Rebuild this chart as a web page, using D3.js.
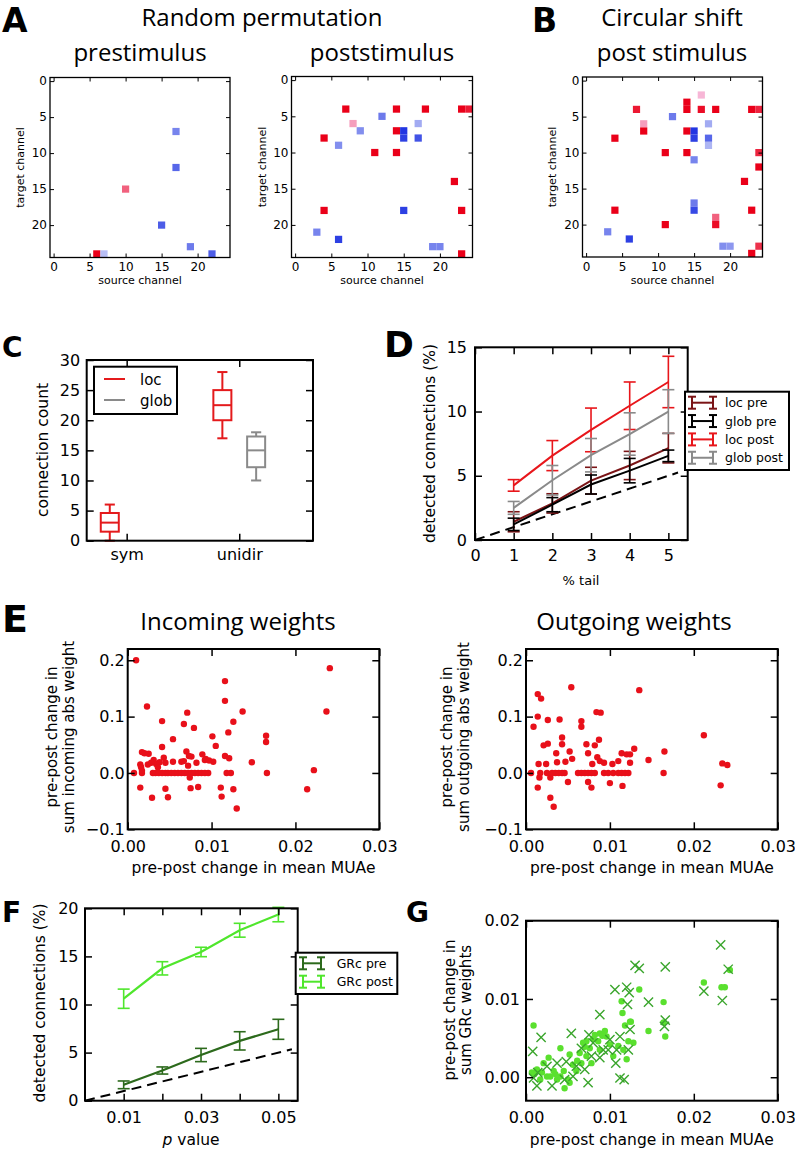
<!DOCTYPE html>
<html><head><meta charset="utf-8">
<script src="https://cdn.jsdelivr.net/npm/d3@7"></script>
<style>body{margin:0;background:#fff}svg{display:block}</style>
</head><body><svg id="c" width="795" height="1152"></svg>
<script>
// ---------------- DATA ----------------
const matrixTicks = [0, 5, 10, 15, 20];
// [source channel, target channel, signed weight strength]
const preCells = [[17,7,-0.6],[17,12,-0.75],[10,15,0.6],[15,20,-0.8],[19,23,-0.65],[22,24,-0.8],[6,24,1],[7,24,-0.3]];
const postCells = [[7,4,1],[14,4,1],[18,4,1],[23,4,1],[24,4,0.9],[12,5,-0.65],[8,6,0.35],[17,6,-0.4],[9,7,-0.55],[14,7,1],[15,7,-1],[15,8,-0.95],[17,8,-0.85],[4,8,1],[6,9,-0.55],[11,10,1],[14,10,1],[22,14,1],[4,18,1],[15,18,-0.95],[23,18,1],[3,21,-0.6],[6,22,-0.95],[19,23,-0.6],[20,23,-0.6],[23,24,1]];
const shiftCells = [[16,2,0.25],[14,3,1],[14,4,1],[7,4,0.9],[16,4,0.95],[18,4,1],[23,4,1],[24,4,0.85],[12,5,-0.65],[8,6,0.35],[17,6,-0.4],[8,7,1],[14,7,1],[15,7,-1],[15,8,-0.95],[17,8,-0.75],[17,9,-0.35],[4,8,1],[11,10,1],[14,10,1],[15,11,-0.6],[24,10,0.85],[24,12,1],[22,14,1],[4,18,1],[15,17,-0.65],[15,18,-0.9],[23,18,1],[18,19,0.6],[18,20,0.95],[11,20,1],[3,21,-0.6],[6,22,-0.95],[19,23,-0.55],[20,23,-0.5],[23,24,1],[24,23,0.8]];

const boxCategories = ["sym", "unidir"];
const boxTicks = [0, 5, 10, 15, 20, 25, 30];
// [low whisker, q1, median, q3, high whisker] per category
const locBoxes = [[0, 1.5, 3, 4.6, 6], [17, 20, 22.5, 25, 28]];
const globBoxes = [null, [10, 12.2, 15, 17.3, 18]];

const tailPct = [1, 2, 3, 4, 5];
const locPreMean = [1.42, 2.85, 4.62, 5.8, 7.15];
const locPreErr = [0.78, 0.75, 1.04, 1.1, 1.15];
const globPreMean = [1.22, 2.75, 4.32, 5.4, 6.55];
const globPreErr = [0.48, 0.55, 0.74, 0.95, 0.45];
const locPostMean = [4.25, 6.57, 8.57, 10.45, 12.3];
const locPostErr = [0.45, 1.17, 1.7, 1.85, 2.0];
const globPostMean = [2.5, 4.65, 6.6, 8.25, 10.0];
const globPostErr = [0.5, 1.15, 1.3, 1.65, 1.7];
const dXTicks = [0, 1, 2, 3, 4, 5];
const dYTicks = [0, 5, 10, 15];
const dLegend = ["loc pre", "glob pre", "loc post", "glob post"];

const incomingPoints = [[0.0010,0.200],[0.0023,0.118],[0.0041,0.092],[0.0071,0.107],[0.0067,0.087],[0.0079,0.080],[0.0054,0.060],[0.0041,0.046],[0.0017,0.037],[0.0020,0.035],[0.0025,0.034],[0.0070,0.038],[0.0089,0.033],[0.0076,0.029],[0.0073,0.030],[0.0101,0.065],[0.0105,0.048],[0.0102,0.020],[0.0092,0.023],[0.0116,0.163],[0.0116,0.128],[0.0126,0.091],[0.0120,0.072],[0.0137,0.109],[0.0116,0.030],[0.0121,0.026],[0.0148,0.019],[0.0165,0.066],[0.0165,0.055],[0.0166,0.000],[0.0214,-0.029],[0.0222,0.005],[0.0237,0.109],[0.0241,0.186],
[0.00075,0],[0.0017,0],[0.0030,0],[0.0033,0],[0.0037,0],[0.0041,0],[0.0045,0],[0.0048,0],[0.0052,0],[0.0056,0],[0.0060,0],[0.0064,0],[0.0068,0],[0.0072,0],[0.0076,0],[0.0080,0],[0.0084,0],[0.0088,0],[0.0092,0],[0.0096,0],[0.0118,0],[0.0123,0],
[0.0015,-0.026],[0.0029,-0.044],[0.0045,-0.028],[0.0048,-0.043],[0.0075,-0.027],[0.0084,-0.025],[0.0111,-0.026],[0.0112,-0.042],[0.0126,-0.029],[0.0130,-0.063],[0.0074,-0.008],
[0.0015,0.015],[0.0016,0.010],[0.0017,0.004],[0.0024,0.015],[0.0031,0.023],[0.0034,0.016],[0.0038,0.019],[0.0043,0.027],[0.0045,0.018],[0.0054,0.020],[0.0064,0.020],[0.0067,0.021],[0.0072,0.013],[0.0082,0.018],[0.0093,0.025],[0.0097,0.022],[0.0028,0.018],[0.0036,0.010]];

const outgoingPoints = [[0.0014,0.140],[0.0018,0.132],[0.0014,0.100],[0.0009,0.082],[0.0026,0.094],[0.0040,0.095],[0.0054,0.152],[0.0066,0.092],[0.0066,0.082],[0.0084,0.108],[0.0089,0.107],[0.0135,0.147],[0.0087,0.059],[0.0082,0.049],[0.0072,0.051],[0.0043,0.063],[0.0043,0.051],[0.0021,0.049],[0.0026,0.052],[0.0052,0.038],[0.0036,0.035],[0.0129,0.043],[0.0114,0.035],[0.0120,0.033],[0.0124,0.033],[0.0074,0.035],[0.0085,0.028],[0.0088,0.021],[0.0093,0.018],[0.0103,0.016],[0.0110,0.021],[0.0146,0.023],[0.0124,0.018],[0.0165,0.038],[0.0212,0.067],[0.0234,0.017],[0.0240,0.014],[0.0232,-0.022],[0.0164,0.000],[0.0015,0.016],[0.0024,0.016],[0.0037,0.019],[0.0047,0.020],[0.0055,0.025],[0.0079,0.016],
[0.0014,-0.026],[0.0029,-0.044],[0.0033,-0.060],[0.0050,-0.016],[0.0074,-0.016],[0.0078,-0.026],[0.0100,-0.018],[0.0115,-0.023],[0.0016,-0.008],[0.0029,-0.008],
[0.0006,0],[0.0017,0],[0.0025,0],[0.0031,0],[0.0035,0],[0.0039,0],[0.0043,0],[0.0046,0],[0.0062,0],[0.0066,0],[0.0070,0],[0.0074,0],[0.0078,0],[0.0082,0],[0.0093,0],[0.0098,0],[0.0104,0],[0.0110,0],[0.0114,0],[0.0118,0],[0.0122,0]];
const eXTicks = [0, 0.01, 0.02, 0.03];
const eYTicks = [-0.1, 0, 0.1, 0.2];

const pValues = [0.01, 0.02, 0.03, 0.04, 0.05];
const grcPreMean = [1.65, 3.14, 4.75, 6.22, 7.42];
const grcPreErr = [0.4, 0.37, 0.69, 0.95, 1.04];
const grcPostMean = [10.6, 13.76, 15.46, 17.72, 19.35];
const grcPostErr = [1.0, 0.69, 0.49, 0.72, 0.75];
const fXTickLabels = ["0.01", "", "0.03", "", "0.05"];
const fYTicks = [0, 5, 10, 15, 20];
const fLegend = ["GRc pre", "GRc post"];

const grcDots = [[0.0009,0.0066],[0.0212,0.0121],[0.0233,0.0115],[0.0237,0.0115],[0.0243,0.0137],[0.0135,0.0112],[0.0114,0.0097],[0.0115,0.0082],[0.0124,0.0071],[0.0146,0.0059],[0.0164,0.0096],[0.0166,0.0052],[0.0164,0.0070],[0.0128,0.0044],[0.0122,0.0046],[0.0116,0.0035],[0.0120,0.0023],[0.0104,0.0027],[0.0096,0.0052],[0.0088,0.0056],[0.0082,0.0054],[0.0072,0.0046],[0.0068,0.0044],[0.0076,0.0037],[0.0064,0.0031],[0.0052,0.0029],[0.0041,0.0037],[0.0027,0.0025],[0.0021,0.0018],[0.0013,0.0010],[0.0007,0.0006],[0.0017,-0.0003],[0.0029,0.0001],[0.0037,-0.0003],[0.0046,-0.0014],[0.0052,-0.0007],[0.0045,0.0008],[0.0033,0.0008],[0.0060,0.0008],[0.0066,0.0018],[0.0078,0.0018],[0.0088,0.0035],[0.0100,0.0042],[0.0110,0.0040],[0.0072,0.0027],[0.0056,0.0016],[0.0025,0.0001],[0.0041,0.0001],[0.0050,-0.0003],[0.0094,0.0059],[0.0086,0.0046],[0.0118,0.0066],[0.0125,0.0071],[0.0061,0.0021],[0.0070,0.0039],[0.0080,0.0049],[0.0091,0.0053],[0.0035,0.0004],[0.0019,0.0006],[0.0010,0.0004]];
const grcCrosses = [[0.0232,0.0169],[0.0130,0.0143],[0.0135,0.0139],[0.0166,0.0141],[0.0241,0.0138],[0.0212,0.0110],[0.0234,0.0098],[0.0106,0.0112],[0.0120,0.0115],[0.0123,0.0108],[0.0121,0.0093],[0.0146,0.0096],[0.0088,0.0080],[0.0166,0.0073],[0.0165,0.0065],[0.0124,0.0061],[0.0054,0.0056],[0.0075,0.0054],[0.0018,0.0051],[0.0008,0.0033],[0.0100,0.0048],[0.0112,0.0052],[0.0122,0.0035],[0.0107,0.0018],[0.0112,-0.0001],[0.0117,-0.0003],[0.0074,-0.0007],[0.0013,-0.0011],[0.0031,-0.0011],[0.0046,-0.0003],[0.0060,0.0014],[0.0078,0.0027],[0.0088,0.0025],[0.0092,0.0035],[0.0025,0.0014],[0.0037,0.0018],[0.0048,0.0020],[0.0066,0.0037],[0.0080,0.0044],[0.0098,0.0035],[0.0108,0.0035],[0.0014,0.0006],[0.0009,-0.0001],[0.0056,0.0001],[0.0070,0.0010]];
const gYTicks = [0, 0.01, 0.02];

// ---------------- DRAWING ----------------
const svg = d3.select('#c');
const TF = 'DejaVu Sans', HF = 'Open Sans';

function txt(x, y, s, o = {}) {
  const t = svg.append('text').attr('x', x).attr('y', y).text(s)
    .attr('font-family', o.ff || TF).attr('font-size', o.fs || 15)
    .attr('text-anchor', o.anchor || 'middle').attr('fill', '#000');
  if (o.fw) t.attr('font-weight', o.fw);
  if (o.rot) t.attr('transform', `rotate(-90,${x},${y})`);
  return t;
}
function letter(x, y, s, fs) { return txt(x, y, s, { ff: 'DejaVu Sans', fs: fs, fw: 'bold', anchor: 'start' }); }

function axes(x, y, o) {
  const g = svg.append('g');
  const [xl, xr] = x.range(); const [yb, yt] = y.range();
  const L = o.len;
  g.append('g').attr('transform', `translate(0,${yb})`)
    .call(d3.axisBottom(x).tickValues(o.xt).tickSize(-L).tickPadding(o.xpad).tickFormat(o.xf));
  g.append('g').attr('transform', `translate(0,${yt})`)
    .call(d3.axisTop(x).tickValues(o.xt).tickSize(-L).tickFormat(() => ''));
  g.append('g').attr('transform', `translate(${xl},0)`)
    .call(d3.axisLeft(y).tickValues(o.yt).tickSize(-L).tickPadding(o.ypad).tickFormat(o.yf));
  g.append('g').attr('transform', `translate(${xr},0)`)
    .call(d3.axisRight(y).tickValues(o.yt).tickSize(-L).tickFormat(() => ''));
  g.selectAll('.domain').remove();
  g.selectAll('.tick line').attr('stroke', '#000').attr('stroke-width', o.tw);
  g.selectAll('.tick text').attr('font-family', TF).attr('font-size', o.fs).attr('fill', '#000');
  g.append('rect').attr('x', xl).attr('y', yt).attr('width', xr - xl).attr('height', yb - yt)
    .attr('fill', 'none').attr('stroke', '#000').attr('stroke-width', o.bw);
  return g;
}

// ---- Panel A / B matrices ----
const posCol = d3.scaleLinear().domain([0.25, 1]).range(['#f7b6d6', '#ea0019']).clamp(true);
const negCol = d3.scaleLinear().domain([0.25, 1]).range(['#c2c8f6', '#2236e2']).clamp(true);
function cellColor(v) { return v > 0 ? posCol(v) : negCol(-v); }

function matrixPanel(x0, y0, size, cells, labelX) {
  const xs = d3.scaleLinear().domain([-0.5, 24.5]).range([x0, x0 + size]);
  const ys = d3.scaleLinear().domain([24.5, -0.5]).range([y0 + size, y0]);
  svg.append('g').selectAll('rect').data(cells).join('rect')
    .attr('x', d => xs(d[0] - 0.5)).attr('y', d => ys(d[1] - 0.5))
    .attr('width', xs(1) - xs(0)).attr('height', ys(1) - ys(0))
    .attr('fill', d => cellColor(d[2]));
  axes(xs, ys, { xt: matrixTicks, yt: matrixTicks, len: 4, tw: 1, bw: 1.3, fs: 12,
    xpad: 5, ypad: 3, xf: d3.format('d'), yf: d3.format('d') });
  txt(labelX, y0 + size / 2, 'target channel', { fs: 11, rot: true });
  txt(x0 + size / 2, 284, 'source channel', { fs: 11 });
}
matrixPanel(50, 77.5, 180, preCells, 24);
matrixPanel(291.5, 76.5, 181, postCells, 266);
matrixPanel(582.5, 77, 180, shiftCells, 556);

letter(2, 32, 'A', 33);
letter(532, 32, 'B', 33);
txt(262, 26, 'Random permutation', { ff: HF, fs: 24 });
txt(140, 61, 'prestimulus', { ff: HF, fs: 24 });
txt(382, 61, 'poststimulus', { ff: HF, fs: 24 });
txt(672, 26, 'Circular shift', { ff: HF, fs: 24 });
txt(672, 61, 'post stimulus', { ff: HF, fs: 24 });

// ---- Panel C boxplot ----
{
  const x = d3.scaleLinear().domain([0.645, 2.655]).range([86.7, 313]);
  const y = d3.scaleLinear().domain([0, 30]).range([540.7, 360]);
  const g = svg.append('g');
  const bw = x(0.08) - x(0), cw = x(0.045) - x(0);
  function box(stats, pos, col) {
    if (!stats) return;
    const [lo, q1, med, q3, hi] = stats; const cx = x(pos);
    const b = g.append('g').attr('stroke', col).attr('stroke-width', 2).attr('fill', 'none');
    b.append('rect').attr('x', cx - bw).attr('y', y(q3)).attr('width', 2 * bw).attr('height', y(q1) - y(q3));
    b.append('line').attr('x1', cx - bw).attr('x2', cx + bw).attr('y1', y(med)).attr('y2', y(med));
    b.append('line').attr('x1', cx).attr('x2', cx).attr('y1', y(q3)).attr('y2', y(hi));
    b.append('line').attr('x1', cx).attr('x2', cx).attr('y1', y(q1)).attr('y2', y(lo));
    [lo, hi].forEach(v => b.append('line').attr('x1', cx - cw).attr('x2', cx + cw).attr('y1', y(v)).attr('y2', y(v)));
  }
  boxCategories.forEach((c, i) => { box(locBoxes[i], i + 1 - 0.15, '#e41a1c'); box(globBoxes[i], i + 1 + 0.15, '#8a8a8a'); });
  axes(x, y, { xt: [1, 2], yt: boxTicks, len: 7, tw: 1.5, bw: 2, fs: 16, xpad: 8, ypad: 6.5,
    xf: (d, i) => boxCategories[i], yf: d3.format('d') });
  const lg = svg.append('g');
  lg.append('rect').attr('x', 94).attr('y', 366.7).attr('width', 83).attr('height', 47.3).attr('fill', '#fff').attr('stroke', '#000').attr('stroke-width', 2);
  [['loc', '#e41a1c', 379], ['glob', '#8a8a8a', 400]].forEach(([n, c, yy]) => {
    lg.append('line').attr('x1', 104).attr('x2', 125).attr('y1', yy).attr('y2', yy).attr('stroke', c).attr('stroke-width', 2);
    txt(140, yy + 5.5, n, { fs: 15, anchor: 'start' });
  });
  txt(48, 450, 'connection count', { fs: 15.5, rot: true });
  letter(2, 357, 'C', 28);
}

// ---- Panel D ----
function errLines(g, x, y, xs, means, errs, col, capW, lw) {
  const line = d3.line().x((d, i) => x(xs[i])).y(d => y(d));
  g.append('path').attr('d', line(means)).attr('fill', 'none').attr('stroke', col).attr('stroke-width', lw);
  const e = g.append('g').attr('stroke', col).attr('stroke-width', 1.6);
  means.forEach((m, i) => {
    const cx = x(xs[i]), a = y(m - errs[i]), b = y(m + errs[i]);
    e.append('line').attr('x1', cx).attr('x2', cx).attr('y1', a).attr('y2', b);
    [a, b].forEach(v => e.append('line').attr('x1', cx - capW).attr('x2', cx + capW).attr('y1', v).attr('y2', v));
  });
}
function legendErr(g, x0, x1, yy, col) {
  const e = g.append('g').attr('stroke', col).attr('stroke-width', 2);
  const a = x0 + 4, b = x1 - 4;
  e.append('line').attr('x1', a).attr('x2', b).attr('y1', yy).attr('y2', yy);
  [a, b].forEach(v => {
    e.append('line').attr('x1', v).attr('x2', v).attr('y1', yy - 6).attr('y2', yy + 6);
    [yy - 6, yy + 6].forEach(w => e.append('line').attr('x1', v - 4).attr('x2', v + 4).attr('y1', w).attr('y2', w));
  });
}
{
  const x = d3.scaleLinear().domain([0, 5.5]).range([475, 687.7]);
  const y = d3.scaleLinear().domain([0, 15]).range([540, 347.3]);
  const g = svg.append('g');
  g.append('line').attr('x1', x(0)).attr('y1', y(0)).attr('x2', x(5.25)).attr('y2', y(5.25))
    .attr('stroke', '#000').attr('stroke-width', 2).attr('stroke-dasharray', '10,6');
  const cols = ['#7b1416', '#000000', '#e8161b', '#8a8a8a'];
  errLines(g, x, y, tailPct, locPreMean, locPreErr, cols[0], 6, 2);
  errLines(g, x, y, tailPct, globPreMean, globPreErr, cols[1], 6, 2);
  errLines(g, x, y, tailPct, locPostMean, locPostErr, cols[2], 6, 2);
  errLines(g, x, y, tailPct, globPostMean, globPostErr, cols[3], 6, 2);
  axes(x, y, { xt: dXTicks, yt: dYTicks, len: 7, tw: 1.5, bw: 2, fs: 16, xpad: 9.5, ypad: 8,
    xf: d3.format('d'), yf: d3.format('d') });
  const lg = svg.append('g');
  lg.append('rect').attr('x', 685).attr('y', 391.7).attr('width', 104).attr('height', 78.3).attr('fill', '#fff').attr('stroke', '#000').attr('stroke-width', 2);
  dLegend.forEach((n, i) => {
    const yy = 402.7 + i * 18.35;
    legendErr(lg, 688, 717, yy, cols[i]);
    txt(725, yy + 4.5, n, { fs: 12.5, anchor: 'start' });
  });
  txt(435, 443.5, 'detected connections (%)', { fs: 15.5, rot: true });
  txt(581, 585, '% tail', { fs: 13 });
  letter(384, 357, 'D', 36);
}

// ---- Panel E ----
function scatterPanel(x0, x1, pts, title, titleX, lab2, labX) {
  const x = d3.scaleLinear().domain([0, 0.03]).range([x0, x1]);
  const y = d3.scaleLinear().domain([-0.1, 0.22]).range([829.3, 649]);
  svg.append('g').selectAll('circle').data(pts).join('circle')
    .attr('cx', d => x(d[0])).attr('cy', d => y(d[1])).attr('r', 3.2).attr('fill', '#e8101a');
  axes(x, y, { xt: eXTicks, yt: eYTicks, len: 7, tw: 1.5, bw: 2, fs: 16, xpad: 11, ypad: 3,
    xf: d3.format('.2f'), yf: d3.format('.1f') });
  txt(titleX, 630, title, { ff: HF, fs: 24 });
  txt(labX, 737, 'pre-post change in', { fs: 15, rot: true });
  txt(labX + 16.5, 737, lab2, { fs: 15, rot: true });
  txt((x0 + x1) / 2, 873, 'pre-post change in mean MUAe', { fs: 15.5 });
}
scatterPanel(127.7, 379.3, incomingPoints, 'Incoming weights', 238, 'sum incoming abs weight', 57);
scatterPanel(526, 777.7, outgoingPoints, 'Outgoing weights', 634, 'sum outgoing abs weight', 452);
letter(2, 632, 'E', 38);

// ---- Panel F ----
{
  const x = d3.scaleLinear().domain([0, 0.055]).range([85, 297.7]);
  const y = d3.scaleLinear().domain([0, 20]).range([1100.7, 908.3]);
  const g = svg.append('g');
  g.append('line').attr('x1', x(0)).attr('y1', y(0)).attr('x2', x(0.0535)).attr('y2', y(5.35))
    .attr('stroke', '#000').attr('stroke-width', 2).attr('stroke-dasharray', '10,6');
  const cols = ['#2c6a1c', '#4fe62c'];
  errLines(g, x, y, pValues, grcPreMean, grcPreErr, cols[0], 6, 2.2);
  errLines(g, x, y, pValues, grcPostMean, grcPostErr, cols[1], 6, 2.2);
  axes(x, y, { xt: pValues, yt: fYTicks, len: 7, tw: 1.5, bw: 2, fs: 16, xpad: 10.5, ypad: 6.5,
    xf: (d, i) => fXTickLabels[i], yf: d3.format('d') });
  const lg = svg.append('g');
  lg.append('rect').attr('x', 295.7).attr('y', 952.7).attr('width', 101.6).attr('height', 41.3).attr('fill', '#fff').attr('stroke', '#000').attr('stroke-width', 2);
  fLegend.forEach((n, i) => {
    const yy = 963.3 + i * 18.4;
    legendErr(lg, 299, 325, yy, cols[i]);
    txt(336.7, yy + 4.5, n, { fs: 12.5, anchor: 'start' });
  });
  txt(45, 1003, 'detected connections (%)', { fs: 15.5, rot: true });
  const t = txt(191, 1145, '', { fs: 15.5 });
  t.append('tspan').attr('font-style', 'italic').text('p');
  t.append('tspan').text(' value');
  letter(2, 922, 'F', 28);
}

// ---- Panel G ----
{
  const x = d3.scaleLinear().domain([0, 0.03]).range([526, 777.7]);
  const y = d3.scaleLinear().domain([-0.003, 0.02]).range([1100.7, 920.7]);
  const g = svg.append('g');
  g.append('g').selectAll('circle').data(grcDots).join('circle')
    .attr('cx', d => x(d[0])).attr('cy', d => y(d[1])).attr('r', 3.2).attr('fill', '#5ae02e');
  const s = 4.6;
  g.append('g').selectAll('path').data(grcCrosses).join('path')
    .attr('d', d => { const cx = x(d[0]), cy = y(d[1]); return `M${cx - s},${cy - s}L${cx + s},${cy + s}M${cx - s},${cy + s}L${cx + s},${cy - s}`; })
    .attr('stroke', '#3aa52c').attr('stroke-width', 1.4).attr('fill', 'none');
  axes(x, y, { xt: eXTicks, yt: gYTicks, len: 7, tw: 1.5, bw: 2, fs: 16, xpad: 10.5, ypad: 6,
    xf: d3.format('.2f'), yf: d3.format('.2f') });
  txt(455, 1010, 'pre-post change in', { fs: 15, rot: true });
  txt(471, 1010, 'sum GRc weights', { fs: 15, rot: true });
  txt(651.8, 1145, 'pre-post change in mean MUAe', { fs: 15.5 });
  letter(406, 922, 'G', 28);
}
</script></body></html>
